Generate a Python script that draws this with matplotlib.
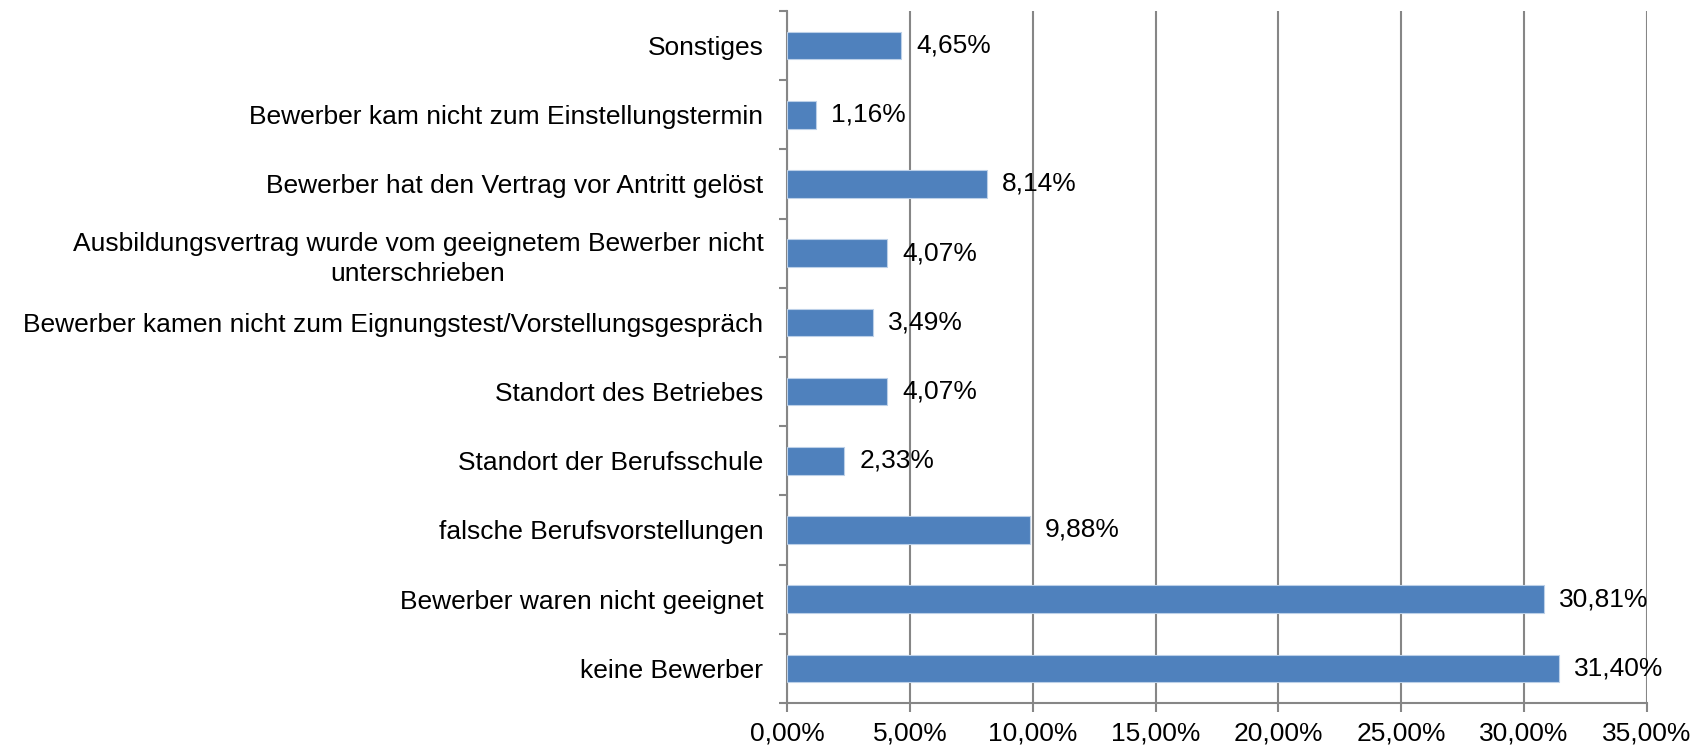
import matplotlib
matplotlib.use("Agg")
import matplotlib.pyplot as plt
from matplotlib.ticker import FuncFormatter, FixedLocator

plt.rcParams['font.family'] = ['Liberation Sans', 'DejaVu Sans']

categories = [
    "keine Bewerber",
    "Bewerber waren nicht geeignet",
    "falsche Berufsvorstellungen",
    "Standort der Berufsschule",
    "Standort des Betriebes",
    "Bewerber kamen nicht zum Eignungstest/Vorstellungsgespräch",
    "Ausbildungsvertrag wurde vom geeignetem Bewerber nicht\nunterschrieben",
    "Bewerber hat den Vertrag vor Antritt gelöst",
    "Bewerber kam nicht zum Einstellungstermin",
    "Sonstiges",
]
values = [31.40, 30.81, 9.88, 2.33, 4.07, 3.49, 4.07, 8.14, 1.16, 4.65]
xticks = [0, 5, 10, 15, 20, 25, 30, 35]

bar_color = "#4F81BD"
grid_color = "#868686"

fig = plt.figure(figsize=(17, 7.5), dpi=100)
ax = fig.add_axes([787/1700, 1-703/750, (1647-787)/1700, (703-11)/750])

y = list(range(len(categories)))
ax.barh(y, values, height=0.4, color=bar_color, edgecolor="#BCD0E8", linewidth=0.8, zorder=3)

fmt = lambda v: f"{v:.2f}".replace(".", ",") + "%"
for yi, v in zip(y, values):
    ax.annotate(fmt(v), xy=(v, yi), xytext=(11, 0), textcoords="offset points",
                ha="left", va="center", fontsize=19, color="black", zorder=4)

ax.set_xlim(0, 35)
ax.set_ylim(-0.5, len(categories) - 0.5)
ax.set_xticks(xticks)
ax.xaxis.set_major_formatter(FuncFormatter(lambda v, p: f"{v:.2f}".replace(".", ",") + "%"))
ax.set_yticks(y)
ax.set_yticklabels(categories, fontsize=19, ha="right", multialignment="center", linespacing=1.35)
ax.yaxis.set_minor_locator(FixedLocator([i - 0.5 for i in range(len(categories) + 1)]))
ax.tick_params(axis="y", which="major", length=0, pad=17)
ax.tick_params(axis="y", which="minor", length=6, width=1.5, color=grid_color, direction="out")
ax.tick_params(axis="x", labelsize=19, length=6.5, width=1.5, color=grid_color, pad=7)

ax.grid(axis="x", color=grid_color, linewidth=1.5, zorder=0)
ax.set_axisbelow(True)
for s in ["top", "right"]:
    ax.spines[s].set_visible(False)
for s in ["left", "bottom"]:
    ax.spines[s].set_color(grid_color)
    ax.spines[s].set_linewidth(1.5)

fig.savefig("out.png", dpi=100)
